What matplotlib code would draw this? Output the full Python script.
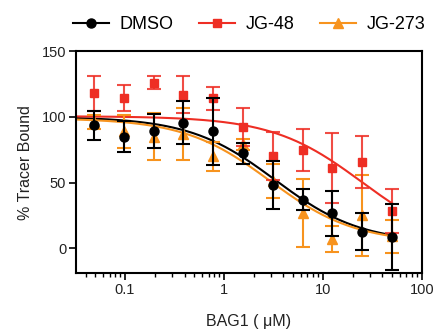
import numpy as np
import matplotlib
matplotlib.use("Agg")
import matplotlib.pyplot as plt
from matplotlib.ticker import LogLocator, NullFormatter

plt.rcParams['font.family'] = ['Liberation Sans', 'DejaVu Sans']

conc = [0.049, 0.098, 0.195, 0.39, 0.78, 1.56, 3.125, 6.25, 12.5, 25, 50]

dmso_mean = [93.5, 85, 89, 95.7, 89, 72.4, 48.2, 37, 26.6, 12.6, 8.8]
dmso_err = [11, 12, 13, 16.5, 25.5, 8, 18, 8, 17, 14, 25]

jg48_mean = [118, 114.2, 126, 116.8, 114, 92.2, 70.3, 74.9, 61, 65.5, 28.5]
jg48_err = [13.4, 10, 5, 14, 9, 14.5, 18, 16, 26.5, 20, 16.7]

jg273_mean = [96, 89, 85, 87, 70, 79, 51, 27, 7, 25, 9]
jg273_err = [5.5, 12.5, 18, 19.5, 11, 4, 13, 26, 10, 31, 12.5]

# 4-parameter logistic fit parameters: top, bottom, IC50, hill
dmso_fit = (100, 4, 3.3, 1.0)
jg48_fit = (100.5, 0, 25, 0.95)
jg273_fit = (99, 4, 2.9, 1.0)

labels = ["DMSO", "JG-48", "JG-273"]
colors = ["#000000", "#EE2E24", "#F7931E"]
markers = ["o", "s", "^"]
msizes = [6.5, 6.0, 6.5]

def logistic(x, p):
    top, bottom, c, h = p
    return bottom + (top - bottom) / (1 + (x / c) ** h)

fig = plt.figure(figsize=(4.37, 3.3), dpi=100)
ax = fig.add_axes([0.174, 0.172, 0.791, 0.673])

xs = np.logspace(np.log10(0.032), np.log10(50), 300)
series = [
    (jg48_mean, jg48_err, jg48_fit, 1),
    (jg273_mean, jg273_err, jg273_fit, 2),
    (dmso_mean, dmso_err, dmso_fit, 0),
]
handles = {}
for mean, err, fit, i in series:
    ax.plot(xs, logistic(xs, fit), color=colors[i], lw=1.5, zorder=2 + i * 0.1)
    eb = ax.errorbar(conc, mean, yerr=err, fmt=markers[i], color=colors[i],
                     ecolor=colors[i], elinewidth=1.5, capsize=5, capthick=1.5,
                     markersize=msizes[i], zorder=3 + (2 - i))
    if i == 1:
        for art in eb[1] + eb[2]:
            art.set_alpha(0.85)
    h, = ax.plot([], [], color=colors[i], marker=markers[i], lw=1.5,
                 markersize=msizes[i])
    handles[i] = h

ax.set_xscale('log')
ax.set_xlim(0.032, 100)
ax.set_ylim(-19, 150)
ax.set_yticks([0, 50, 100, 150])
ax.set_xticks([0.1, 1, 10, 100])
ax.set_xticklabels(["0.1", "1", "10", "100"])
ax.xaxis.set_minor_locator(LogLocator(base=10, subs=np.arange(2, 10), numticks=20))
ax.xaxis.set_minor_formatter(NullFormatter())

for s in ax.spines.values():
    s.set_linewidth(1.5)
ax.tick_params(axis='both', which='major', length=5, width=1.2, labelsize=10.5,
               pad=2, labelcolor='#222222')
ax.tick_params(axis='x', which='minor', length=3, width=1.0)

ax.set_xlabel("BAG1 ( μM)", fontsize=11.5, labelpad=12, color='#222222')
ax.set_ylabel("% Tracer Bound", fontsize=11.5, labelpad=6, color='#222222')

fig.legend([handles[0], handles[1], handles[2]], labels, loc='center',
           bbox_to_anchor=(0.57, 0.925), ncol=3, frameon=False,
           fontsize=13, handlelength=2.0, columnspacing=1.4, handletextpad=0.6)

fig.savefig("out.png", dpi=100)
